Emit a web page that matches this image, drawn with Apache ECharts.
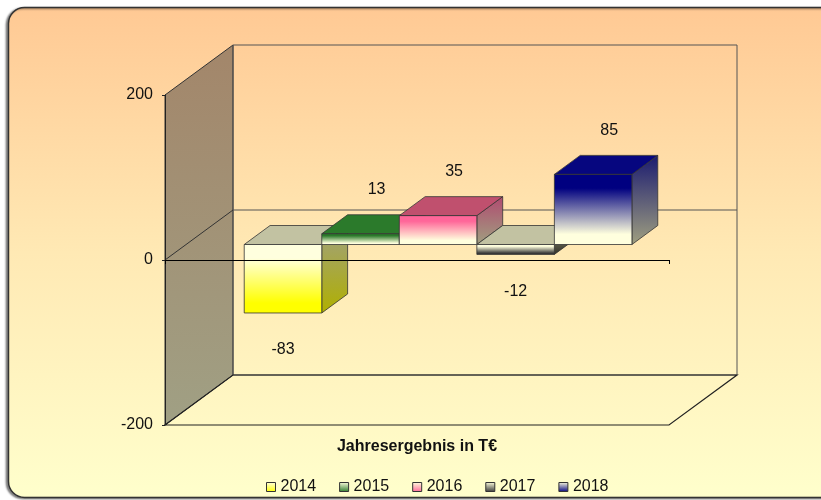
<!DOCTYPE html>
<html>
<head>
<meta charset="utf-8">
<script src="https://cdn.jsdelivr.net/npm/echarts@6/dist/echarts.min.js"></script>
<style>
  html, body { margin: 0; padding: 0; background: #fff; }
  #main { width: 821px; height: 500px; }
</style>
</head>
<body>
<div id="main"></div>
<script>
// data
const years = ['2014', '2015', '2016', '2017', '2018']
const values = [-83, 13, 35, -12, 85]
const yMin = -200
const yMax = 200
const yStep = 200
const axisTitle = 'Jahresergebnis in T€'

// looks
const barColors = ['#ffff00', '#2b7a2b', '#ff6699', '#383838', '#000080']
const topColors = ['#c2c2a2', '#2b7a2b', '#c0506e', '#c2c2a2', '#06067f']
const sideColors = ['#b0b000', '#1f5a1f', '#b04a70', '#303028', '#1a1a70']
const LIGHT = '#ffffde'
const FONT = '"Liberation Sans", Arial, sans-serif'

// x axis: bars sit on [i, i+1], with gaps on both sides
const X_MIN = -0.75
const X_MAX = 5.75

// oblique depth of the 3d box (px)
const DX = 68
const DY = -50
const BAR_FRONT = 0.31
const BAR_BACK = 0.69

const LG = echarts.graphic.LinearGradient

function add(p, d) { return [p[0] + d[0], p[1] + d[1]] }

function renderWalls(params, api) {
  const D = [DX, DY]
  const tl = api.coord([X_MIN, yMax])
  const bl = api.coord([X_MIN, yMin])
  const zl = api.coord([X_MIN, 0])
  const br = api.coord([X_MAX, yMin])
  const tr = api.coord([X_MAX, yMax])
  const zr = api.coord([X_MAX, 0])
  return {
    type: 'group',
    children: [
      {
        type: 'polygon',
        shape: { points: [tl, add(tl, D), add(bl, D), bl] },
        style: {
          fill: new LG(0, 0, 0, 1, [
            { offset: 0, color: '#a3866a' },
            { offset: 1, color: '#a0a084' }
          ]),
          stroke: '#333', lineWidth: 1
        }
      },
      {
        type: 'polygon',
        shape: { points: [add(tl, D), add(tr, D), add(br, D), add(bl, D)] },
        style: { fill: 'none', stroke: '#555', lineWidth: 1 }
      },
      {
        type: 'line',
        shape: { x1: zl[0] + DX, y1: zl[1] + DY, x2: zr[0] + DX, y2: zr[1] + DY },
        style: { stroke: '#555', lineWidth: 1 }
      },
      {
        type: 'line',
        shape: { x1: zl[0], y1: zl[1], x2: zl[0] + DX, y2: zl[1] + DY },
        style: { stroke: '#333', lineWidth: 1 }
      },
      {
        type: 'polygon',
        shape: { points: [bl, br, add(br, D), add(bl, D)] },
        style: { fill: 'none', stroke: '#222', lineWidth: 1.2 }
      }
    ]
  }
}

function renderBar(params, api) {
  const s = params.seriesIndex - 1
  const i = api.value(0)
  const v = api.value(1)
  const a = api.coord([i, 0])
  const b = api.coord([i + 1, v])
  const f = [DX * BAR_FRONT, DY * BAR_FRONT]
  const k = [DX * BAR_BACK, DY * BAR_BACK]
  const x0 = a[0], x1 = b[0]
  const yTop = Math.min(a[1], b[1])
  const yBot = Math.max(a[1], b[1])
  const pos = v >= 0
  const col = barColors[s]

  const front = [[x0 + f[0], yTop + f[1]], [x1 + f[0], yTop + f[1]], [x1 + f[0], yBot + f[1]], [x0 + f[0], yBot + f[1]]]
  const top = [[x0 + f[0], yTop + f[1]], [x1 + f[0], yTop + f[1]], [x1 + k[0], yTop + k[1]], [x0 + k[0], yTop + k[1]]]
  const side = [[x1 + f[0], yTop + f[1]], [x1 + k[0], yTop + k[1]], [x1 + k[0], yBot + k[1]], [x1 + f[0], yBot + f[1]]]

  const frontFill = pos
    ? new LG(0, 0, 0, 1, [{ offset: 0, color: col }, { offset: 0.2, color: col }, { offset: 0.85, color: LIGHT }, { offset: 1, color: LIGHT }])
    : new LG(0, 0, 0, 1, [{ offset: 0, color: LIGHT }, { offset: 0.2, color: LIGHT }, { offset: 0.85, color: col }, { offset: 1, color: col }])
  const sideFill = pos
    ? new LG(0, 0, 0, 1, [{ offset: 0, color: sideColors[s] }, { offset: 1, color: '#a0a080' }])
    : new LG(0, 0, 0, 1, [{ offset: 0, color: '#a0a080' }, { offset: 1, color: sideColors[s] }])

  const cx = (x0 + x1) / 2 + f[0]
  const lx = pos ? cx + 16 : cx
  const ly = pos ? b[1] + f[1] - 44 : b[1] + f[1] + 37

  return {
    type: 'group',
    children: [
      { type: 'polygon', shape: { points: side }, style: { fill: sideFill, stroke: '#333', lineWidth: 0.8 } },
      { type: 'polygon', shape: { points: top }, style: { fill: topColors[s], stroke: '#333', lineWidth: 0.8 } },
      { type: 'polygon', shape: { points: front }, style: { fill: frontFill, stroke: '#333', lineWidth: 0.8 } },
      {
        type: 'text', x: lx, y: ly,
        style: { text: String(v), fill: '#111', font: '16px ' + FONT, align: 'center', verticalAlign: 'middle' }
      }
    ]
  }
}

const chart = echarts.init(document.getElementById('main'))

const series = [{
  type: 'custom',
  name: 'walls',
  z: 1,
  silent: true,
  renderItem: renderWalls,
  data: [[0, 0]]
}]
years.forEach((y, i) => {
  series.push({
    type: 'custom',
    name: y,
    z: 2,
    renderItem: renderBar,
    itemStyle: { color: barColors[i] },
    data: [[i, values[i]]]
  })
})

chart.setOption({
  animation: false,
  textStyle: { fontFamily: FONT },
  graphic: [
    {
      type: 'rect', z: -10,
      shape: { x: 8.5, y: 7.5, width: 840, height: 490, r: 16 },
      style: {
        fill: new LG(0, 0, 0, 1, [
          { offset: 0, color: '#ffc994' },
          { offset: 0.5, color: '#ffe9b4' },
          { offset: 1, color: '#ffffcc' }
        ]),
        stroke: '#333', lineWidth: 1.5,
        shadowColor: 'rgba(0,0,0,0.45)', shadowBlur: 2, shadowOffsetX: -2, shadowOffsetY: 1
      }
    },
    {
      type: 'text', x: 417, y: 447, z: 10,
      style: { text: axisTitle, font: 'bold 16px ' + FONT, fill: '#111', align: 'center', verticalAlign: 'middle' }
    }
  ],
  grid: { left: 165, right: 152, top: 95, bottom: 75 },
  xAxis: {
    type: 'value', min: X_MIN, max: X_MAX, interval: X_MAX - X_MIN, z: 10,
    axisLine: { onZero: true, lineStyle: { color: '#000', width: 1.2 } },
    axisTick: { show: true, length: 4, lineStyle: { color: '#000' } },
    axisLabel: { show: false },
    splitLine: { show: false }
  },
  yAxis: {
    type: 'value', min: yMin, max: yMax, interval: yStep, z: 10,
    axisLine: { show: true, onZero: false, lineStyle: { color: '#222', width: 1 } },
    axisTick: { show: true, length: 3, lineStyle: { color: '#222' } },
    axisLabel: { color: '#111', fontSize: 16, margin: 12, fontFamily: FONT },
    splitLine: { show: false }
  },
  legend: {
    left: 261, top: 474,
    itemWidth: 9, itemHeight: 9, itemGap: 23,
    icon: 'rect',
    textStyle: { fontSize: 16, color: '#111', fontFamily: FONT },
    data: years.map((y, i) => ({
      name: y,
      itemStyle: {
        color: new LG(0, 0, 0, 1, [{ offset: 0, color: LIGHT }, { offset: 1, color: barColors[i] }]),
        borderColor: '#333', borderWidth: 1
      }
    }))
  },
  series
})
</script>
</body>
</html>
